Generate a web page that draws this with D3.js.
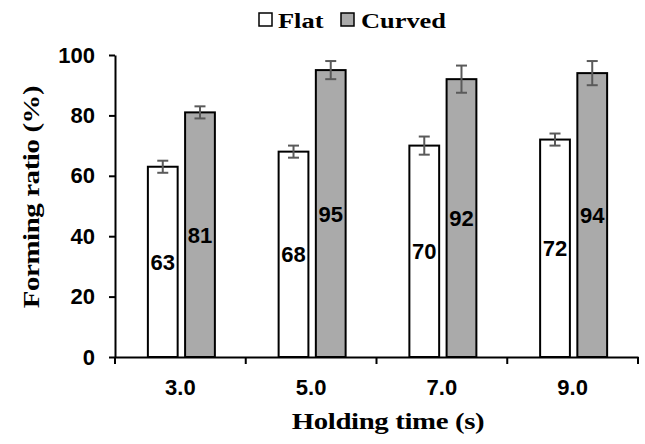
<!DOCTYPE html>
<html>
<head>
<meta charset="utf-8">
<script src="https://cdn.jsdelivr.net/npm/d3@7"></script>
<style>
  body { margin: 0; background: #fff; }
  svg { display: block; }
</style>
</head>
<body>
<div id="chart"></div>
<script>
// chart data
const categories = ['3.0', '5.0', '7.0', '9.0'];
const seriesNames = ['Flat', 'Curved'];
const flatValues = [63, 68, 70, 72];
const curvedValues = [81, 95, 92, 94];
const flatErrors = [2, 2, 3, 2];
const curvedErrors = [2, 3, 4.5, 4];
const yTicks = [0, 20, 40, 60, 80, 100];

const colors = { Flat: '#ffffff', Curved: '#aaaaaa' };

const width = 645, height = 444;
const margin = { top: 55, right: 7, bottom: 87, left: 115 };

const svg = d3.select('#chart')
  .append('svg')
  .attr('width', width)
  .attr('height', height);

// scales
const x0 = d3.scaleBand()
  .domain(categories)
  .range([margin.left, width - margin.right])
  .padding(0);

const x1 = d3.scaleBand()
  .domain(seriesNames)
  .range([-32.5, 34.5])
  .paddingInner(0.2);

const y = d3.scaleLinear()
  .domain([0, 100])
  .range([height - margin.bottom, margin.top]);

// build rows for drawing
const rows = [];
categories.forEach((c, i) => {
  rows.push({ cat: c, series: 'Flat', value: flatValues[i], err: flatErrors[i] });
  rows.push({ cat: c, series: 'Curved', value: curvedValues[i], err: curvedErrors[i] });
});

const cx = d => x0(d.cat) + x0.bandwidth() / 2 + x1(d.series);

// bars
svg.append('g')
  .selectAll('rect')
  .data(rows)
  .join('rect')
  .attr('x', d => cx(d))
  .attr('y', d => y(d.value))
  .attr('width', x1.bandwidth())
  .attr('height', d => y(0) - y(d.value))
  .attr('fill', d => colors[d.series])
  .attr('stroke', '#000')
  .attr('stroke-width', 2);

// error bars
const errG = svg.append('g')
  .attr('stroke', '#5a5a5a')
  .attr('stroke-width', 2);

rows.forEach(d => {
  const mx = cx(d) + x1.bandwidth() / 2;
  errG.append('line')
    .attr('x1', mx).attr('x2', mx)
    .attr('y1', y(d.value + d.err)).attr('y2', y(d.value - d.err));
  [d.value + d.err, d.value - d.err].forEach(v => {
    errG.append('line')
      .attr('x1', mx - 5.5).attr('x2', mx + 5.5)
      .attr('y1', y(v)).attr('y2', y(v));
  });
});

// value labels in the middle of each bar
svg.append('g')
  .selectAll('text')
  .data(rows)
  .join('text')
  .attr('x', d => cx(d) + x1.bandwidth() / 2)
  .attr('y', d => (y(d.value) + y(0)) / 2 + 8)
  .attr('text-anchor', 'middle')
  .attr('font-family', '"Liberation Sans", Arial, sans-serif')
  .attr('font-weight', 'bold')
  .attr('font-size', 22)
  .attr('fill', '#000')
  .text(d => d.value);

// y axis
const yAxis = svg.append('g')
  .attr('transform', `translate(${margin.left},0)`)
  .call(d3.axisLeft(y).tickValues(yTicks).tickSize(6).tickSizeOuter(0).tickPadding(14));
yAxis.select('.domain').attr('stroke', '#000').attr('stroke-width', 2);
yAxis.selectAll('.tick line').attr('stroke', '#000').attr('stroke-width', 2);
yAxis.selectAll('.tick text')
  .attr('font-family', '"Liberation Sans", Arial, sans-serif')
  .attr('font-weight', 'bold')
  .attr('font-size', 22)
  .attr('fill', '#000');

// x axis
const xAxis = svg.append('g')
  .attr('transform', `translate(0,${y(0)})`)
  .call(d3.axisBottom(x0).tickSize(0).tickSizeOuter(0).tickPadding(22));
xAxis.select('.domain').attr('stroke', '#000').attr('stroke-width', 2);
xAxis.selectAll('.tick text')
  .attr('font-family', '"Liberation Sans", Arial, sans-serif')
  .attr('font-weight', 'bold')
  .attr('font-size', 22)
  .attr('fill', '#000');

// x ticks at the band edges
const edges = categories.map(c => x0(c)).concat([x0.range()[1]]);
xAxis.selectAll('.edge')
  .data(edges)
  .join('line')
  .attr('class', 'edge')
  .attr('x1', d => d).attr('x2', d => d)
  .attr('y1', 0).attr('y2', 7)
  .attr('stroke', '#000')
  .attr('stroke-width', 2);

// serif labels are drawn a bit wider than normal, like the original
const serif = '"Liberation Serif", "Times New Roman", serif';

svg.append('text')
  .attr('transform', 'translate(388,429) scale(1.2,1)')
  .attr('text-anchor', 'middle')
  .attr('font-family', serif)
  .attr('font-weight', 'bold')
  .attr('font-size', 24)
  .attr('letter-spacing', -0.3)
  .text('Holding time (s)');

svg.append('text')
  .attr('transform', 'translate(39,197) rotate(-90) scale(1.2,1)')
  .attr('text-anchor', 'middle')
  .attr('font-family', serif)
  .attr('font-weight', 'bold')
  .attr('font-size', 24)
  .attr('letter-spacing', -0.3)
  .text('Forming ratio (%)');

// legend
const legendItems = [
  { name: 'Flat', boxX: 259, textX: 278 },
  { name: 'Curved', boxX: 341, textX: 361 }
];
const legend = svg.append('g');
legend.selectAll('rect')
  .data(legendItems)
  .join('rect')
  .attr('x', d => d.boxX)
  .attr('y', 13)
  .attr('width', 13)
  .attr('height', 13)
  .attr('fill', d => colors[d.name])
  .attr('stroke', '#000')
  .attr('stroke-width', 1.5);
legend.selectAll('text')
  .data(legendItems)
  .join('text')
  .attr('transform', d => `translate(${d.textX},28) scale(1.2,1)`)
  .attr('font-family', serif)
  .attr('font-weight', 'bold')
  .attr('font-size', 22)
  .text(d => d.name);
</script>
</body>
</html>
